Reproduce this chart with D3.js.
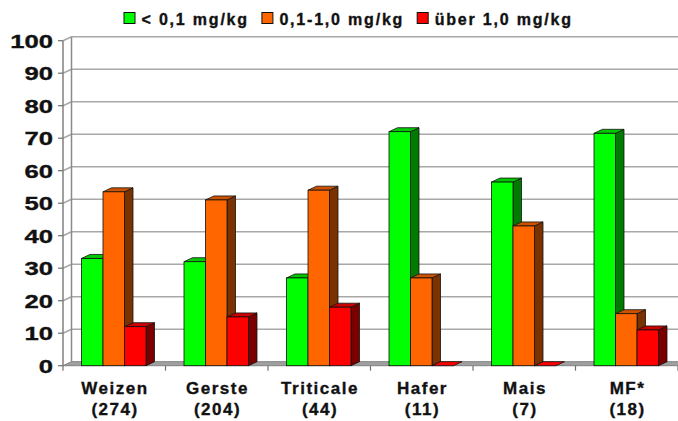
<!DOCTYPE html>
<html>
<head>
<meta charset="utf-8">
<script src="https://cdn.jsdelivr.net/npm/d3@7"></script>
<style>
  body { margin: 0; background: #fff; }
  text { font-family: "Liberation Sans", Arial, sans-serif; font-weight: bold; fill: #111; stroke: #111; stroke-width: 0.35px; }
</style>
</head>
<body>
<script>
// data
var categories = ["Weizen", "Gerste", "Triticale", "Hafer", "Mais", "MF*"];
var counts = ["(274)", "(204)", "(44)", "(11)", "(7)", "(18)"];
var seriesNames = ["< 0,1 mg/kg", "0,1-1,0 mg/kg", "über 1,0 mg/kg"];
var low = [33, 32, 27, 72, 56.5, 71.5];
var mid = [53.5, 51, 54, 27, 43, 16];
var high = [12, 15, 18, 0, 0, 11];
var yTicks = [0, 10, 20, 30, 40, 50, 60, 70, 80, 90, 100];

var series = [low, mid, high];
var front = ["#00ff00", "#ff6600", "#ff0000"];
var tops = ["#00c800", "#cc5200", "#cc0000"];
var sides = ["#007a00", "#7a3300", "#7a0000"];

var W = 678, H = 421;
var dx = 8.5, dy = -4;   // 3d depth offset

var svg = d3.select("body")
            .append("svg")
            .attr("width", W)
            .attr("height", H);

var x = d3.scaleBand()
          .domain(categories)
          .range([63, 678]);

var xs = d3.scaleBand()
           .domain([0, 1, 2])
           .range([18.5, 83]);

var y = d3.scaleLinear()
          .domain([0, 100])
          .range([365.7, 40.7]);

var x0 = x.range()[0], x1 = x.range()[1];

// back wall gridlines + left wall grid
yTicks.forEach(function(t) {
  if (t === 0) return;
  svg.append("line")
     .attr("x1", x0 + dx).attr("x2", x1 + dx)
     .attr("y1", y(t) + dy).attr("y2", y(t) + dy)
     .attr("stroke", "#a8a8a8").attr("stroke-width", 1.5);
  svg.append("line")
     .attr("x1", x0).attr("x2", x0 + dx)
     .attr("y1", y(t)).attr("y2", y(t) + dy)
     .attr("stroke", "#a8a8a8").attr("stroke-width", 1.5);
});

// left wall edges
svg.append("line")
   .attr("x1", x0 + dx).attr("x2", x0 + dx)
   .attr("y1", y(100) + dy).attr("y2", y(0) + dy)
   .attr("stroke", "#8a8a8a").attr("stroke-width", 1.5);

// floor
svg.append("polygon")
   .attr("points", [[x0, y(0)], [x1, y(0)], [x1 + dx, y(0) + dy], [x0 + dx, y(0) + dy]].join(" "))
   .attr("fill", "#a0a0a0")
   .attr("stroke", "#808080").attr("stroke-width", 1);

// front axis line
svg.append("line")
   .attr("x1", x0).attr("x2", x0)
   .attr("y1", y(100)).attr("y2", y(0))
   .attr("stroke", "#808080").attr("stroke-width", 1.5);

// y ticks and labels
yTicks.forEach(function(t) {
  svg.append("line")
     .attr("x1", x0 - 5).attr("x2", x0)
     .attr("y1", y(t)).attr("y2", y(t))
     .attr("stroke", "#707070").attr("stroke-width", 1.2);
  svg.append("text")
     .attr("transform", "translate(53," + (y(t) + 6.8) + ") scale(1.35,1)")
     .attr("text-anchor", "end")
     .style("font-size", "19px")
     .text(t);
});

// x ticks
d3.range(categories.length + 1).forEach(function(i) {
  var xx = x0 + i * x.bandwidth();
  svg.append("line")
     .attr("x1", xx).attr("x2", xx)
     .attr("y1", y(0)).attr("y2", y(0) + 5)
     .attr("stroke", "#707070").attr("stroke-width", 1.2);
});

// bars
categories.forEach(function(c, i) {
  series.forEach(function(s, j) {
    var v = s[i];
    var bx = x(c) + xs(j), bw = xs.bandwidth();
    var yt = y(v), yb = y(0);
    var g = svg.append("g");
    if (v > 0) {
      g.append("polygon")
       .attr("points", [[bx + bw, yt], [bx + bw + dx, yt + dy], [bx + bw + dx, yb + dy], [bx + bw, yb]].join(" "))
       .attr("fill", sides[j]).attr("stroke", "#111").attr("stroke-width", 0.8);
    }
    g.append("polygon")
     .attr("points", [[bx, yt], [bx + dx, yt + dy], [bx + bw + dx, yt + dy], [bx + bw, yt]].join(" "))
     .attr("fill", v > 0 ? tops[j] : front[j]).attr("stroke", "#111").attr("stroke-width", 0.8);
    if (v > 0) {
      g.append("rect")
       .attr("x", bx).attr("y", yt)
       .attr("width", bw).attr("height", yb - yt)
       .attr("fill", front[j]).attr("stroke", "#111").attr("stroke-width", 0.8);
    }
  });
});

// category labels
categories.forEach(function(c, i) {
  var cx = x(c) + x.bandwidth() / 2 + 0.75;
  svg.append("text")
     .attr("x", cx).attr("y", 394)
     .attr("text-anchor", "middle")
     .style("font-size", "17px").style("letter-spacing", "1.5px")
     .text(c);
  svg.append("text")
     .attr("x", cx).attr("y", 415)
     .attr("text-anchor", "middle")
     .style("font-size", "17px").style("letter-spacing", "1.5px")
     .text(counts[i]);
});

// legend
var lx = 124;
seriesNames.forEach(function(n, j) {
  svg.append("rect")
     .attr("x", lx).attr("y", 12.5)
     .attr("width", 11).attr("height", 11)
     .attr("fill", front[j]).attr("stroke", "#111").attr("stroke-width", 1);
  var t = svg.append("text")
     .attr("x", lx + 17.5).attr("y", 25)
     .style("font-size", "16px").style("letter-spacing", "1.8px")
     .text(n);
  lx = lx + 17.5 + t.node().getComputedTextLength() + 13;
});
</script>
</body>
</html>
